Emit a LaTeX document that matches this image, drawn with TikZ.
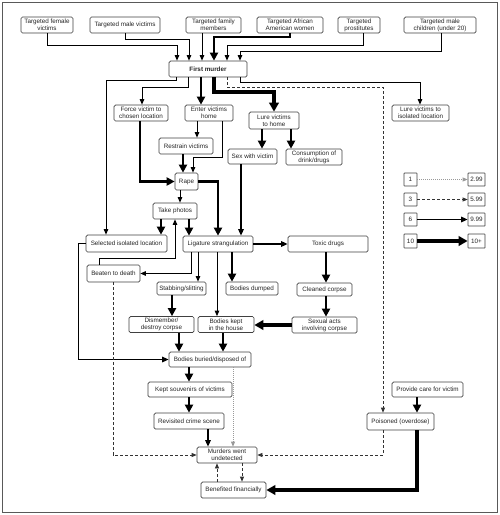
\documentclass[tikz,border=0pt]{standalone}
\usepackage{fontspec}
\setmainfont{Liberation Sans}
\usetikzlibrary{arrows.meta}
\begin{document}
\begin{tikzpicture}[x=1pt,y=-1pt,
 box/.style={draw=black!75, line width=0.7pt, rounded corners=1.5pt, fill=white, inner sep=0pt, align=center, font=\fontsize{6.3}{7}\selectfont, text=black!85},
 lg/.style={box, rounded corners=0.5pt},
 ar/.style={line width=0.9pt, -{Triangle[length=5.5pt,width=4.5pt]}},
 arM/.style={line width=1.4pt, -{Triangle[length=6.5pt,width=5.5pt]}},
 arT/.style={line width=2.5pt, -{Triangle[length=8pt,width=8pt]}},
 arTT/.style={line width=3.3pt, -{Triangle[length=9pt,width=9.5pt]}},
 ardash/.style={line width=0.7pt, black!80, dash pattern=on 3pt off 2pt, -{Triangle[length=5pt,width=4pt]}},
 ardot/.style={line width=0.7pt, black!40, dash pattern=on 1pt off 1pt, -{Triangle[length=5pt,width=4pt]}}
]
\useasboundingbox (0,0) rectangle (500,515);
\draw[black!65, line width=1pt] (2,2) rectangle (497,512);

% nodes
\node[box, minimum width=52pt, minimum height=16pt] (tfem) at (47,25) {Targeted female\\victims};
\node[box, minimum width=70pt, minimum height=16pt] (tmale) at (125,25) {Targeted male victims};
\node[box, minimum width=55pt, minimum height=16pt] (tfam) at (213.5,25) {Targeted family\\members};
\node[box, minimum width=66pt, minimum height=16pt] (tafa) at (290,25) {Targeted African\\American women};
\node[box, minimum width=42pt, minimum height=16pt] (tpro) at (359,25) {Targeted\\prostitutes};
\node[box, minimum width=72pt, minimum height=16pt] (tchild) at (440,25) {Targeted male\\children (under 20)};
\node[box, minimum width=78pt, minimum height=16pt, font=\fontsize{6.3}{7}\selectfont\bfseries] (first) at (208,69) {First murder};
\node[box, minimum width=54pt, minimum height=16pt] (force) at (141,113) {Force victim to\\chosen location};
\node[box, minimum width=48pt, minimum height=16pt] (enter) at (209,113) {Enter victims\\home};
\node[box, minimum width=50pt, minimum height=17pt] (lurehome) at (274,120.5) {Lure victims\\to home};
\node[box, minimum width=57pt, minimum height=16pt] (lureiso) at (420.5,113) {Lure victims to\\isolated location};
\node[box, minimum width=54pt, minimum height=16pt] (restrain) at (186,146) {Restrain victims};
\node[box, minimum width=49pt, minimum height=15pt] (sex) at (252.5,156.5) {Sex with victim};
\node[box, minimum width=56pt, minimum height=16pt] (consume) at (314,157) {Consumption of\\drink/drugs};
\node[box, minimum width=23pt, minimum height=17pt] (rape) at (186.5,181.5) {Rape};
\node[box, minimum width=44pt, minimum height=16pt] (photos) at (175,211) {Take photos};
\node[box, minimum width=81pt, minimum height=17pt] (seliso) at (126.5,243.5) {Selected isolated location};
\node[box, minimum width=70pt, minimum height=16pt] (lig) at (218,244) {Ligature strangulation};
\node[box, minimum width=80pt, minimum height=16pt] (toxic) at (328,244) {Toxic drugs};
\node[box, minimum width=53pt, minimum height=17pt] (beaten) at (113.5,273.5) {Beaten to death};
\node[box, minimum width=49pt, minimum height=13pt] (stab) at (181.5,288.5) {Stabbing/slitting};
\node[box, minimum width=52pt, minimum height=13pt] (dumped) at (252,288.5) {Bodies dumped};
\node[box, minimum width=55pt, minimum height=13pt] (cleaned) at (324.5,289.5) {Cleaned corpse};
\node[box, minimum width=65pt, minimum height=16pt] (dismember) at (161.5,324.5) {Dismember/\\destroy corpse};
\node[box, minimum width=56pt, minimum height=16pt] (kept) at (226,324.5) {Bodies kept\\in the house};
\node[box, minimum width=65pt, minimum height=16pt] (sexacts) at (324.5,325) {Sexual acts\\involving corpse};
\node[box, minimum width=82pt, minimum height=15pt] (buried) at (210,359.5) {Bodies buried/disposed of};
\node[box, minimum width=84pt, minimum height=15pt] (souv) at (190,389.5) {Kept souvenirs of victims};
\node[box, minimum width=70pt, minimum height=16pt] (revis) at (189,421) {Revisited crime scene};
\node[box, minimum width=60pt, minimum height=16pt] (murders) at (227,455) {Murders went\\undetected};
\node[box, minimum width=65pt, minimum height=16pt] (benef) at (233.5,490) {Benefited financially};
\node[box, minimum width=71pt, minimum height=15pt] (care) at (427.5,389.5) {Provide care for victim};
\node[box, minimum width=67pt, minimum height=17pt] (poison) at (400.5,421.5) {Poisoned (overdose)};

% legend
\node[lg, minimum width=13pt, minimum height=13pt] (l1) at (410.5,179.5) {1};
\node[lg, minimum width=17pt, minimum height=13pt] (r1) at (476.5,179.5) {2.99};
\node[lg, minimum width=13pt, minimum height=13pt] (l2) at (410.5,199.5) {3};
\node[lg, minimum width=17pt, minimum height=13pt] (r2) at (476.5,199.5) {5.99};
\node[lg, minimum width=13pt, minimum height=13pt] (l3) at (410.5,219.5) {6};
\node[lg, minimum width=17pt, minimum height=13pt] (r3) at (476.5,219.5) {9.99};
\node[lg, minimum width=13pt, minimum height=14pt] (l4) at (410.5,241) {10};
\node[lg, minimum width=17pt, minimum height=14pt] (r4) at (476.5,241) {10+};
\draw[ardot] (l1) -- (r1);
\draw[ardash] (l2) -- (r2);
\draw[arM] (l3) -- (r3);
\draw[arTT] (l4) -- (r4);

% into first murder
\draw[ar] (tfem.south) |- (177,45) -- (177,0 |- first.north);
\draw[ar] (tmale.south) |- (189,39) -- (189,0 |- first.north);
\draw[ar] (202,0 |- tfam.south) -- (202,0 |- first.north);
\draw[arT] (tafa.south) |- (214,37) -- (214,0 |- first.north);
\draw[ar] (363,0 |- tpro.south) |- (227,45) -- (227,0 |- first.north);
\draw[ar] (441,0 |- tchild.south) |- (240,51) -- (240,0 |- first.north);

% out of first murder
\draw[ar] (176,0 |- first.south) |- (106,80) -- (106,0 |- seliso.north);
\draw[ar] (188,0 |- first.south) |- (142,87) -- (142,0 |- force.north);
\draw[arT] (201,0 |- first.south) -- (201,0 |- enter.north);
\draw[arTT] (214,0 |- first.south) |- (274,92) -- (lurehome.north);
\draw[ar] (240,0 |- first.south) |- (420,82) -- (420,0 |- lureiso.north);
\draw[ardash] (227,0 |- first.south) |- (383,87) -- (383,0 |- poison.north);

% middle
\draw[arT] (140,0 |- force.south) |- (rape.west);
\draw[ar] (197,0 |- enter.south) -- (197,0 |- restrain.north);
\draw[ar] (222,0 |- enter.south) |- (193,157) -- (193,0 |- rape.north);
\draw[arT] (183,0 |- restrain.south) -- (183,0 |- rape.north);
\draw[arT] (rape.east) -| (lig.north);
\draw[ar] (180,0 |- rape.south) -- (180,0 |- photos.north);
\draw[arT] (161,0 |- photos.south) -- (161,0 |- seliso.north);
\draw[arT] (189,0 |- photos.south) -- (189,0 |- lig.north);
\draw[ar] (99,0 |- beaten.north) |- (175,258) -- (175,0 |- photos.south);
\draw[arT] (262,0 |- lurehome.south) -- (262,0 |- sex.north);
\draw[arT] (291,0 |- lurehome.south) -- (291,0 |- consume.north);
\draw[arM] (241,0 |- sex.south) -- (241,0 |- lig.north);
\draw[arM] (lig.east) -- (toxic.west);
\draw[arM] (seliso.west) -- ++(-7,0) |- (buried.west);
\draw[ar] (191,0 |- lig.south) |- (beaten.east);
\draw[ar] (198,0 |- lig.south) -- (198,0 |- stab.north);
\draw[ar] (217,0 |- lig.south) -- (217,0 |- kept.north);
\draw[arT] (232,0 |- lig.south) -- (232,0 |- dumped.north);
\draw[arT] (172,0 |- stab.south) -- (172,0 |- dismember.north);
\draw[arT] (179,0 |- dismember.south) -- (179,0 |- buried.north);
\draw[arT] (223,0 |- kept.south) -- (223,0 |- buried.north);
\draw[arTT] (sexacts.west) -- (sexacts.west -| kept.east);
\draw[arT] (326,0 |- toxic.south) -- (326,0 |- cleaned.north);
\draw[arT] (326,0 |- cleaned.south) -- (326,0 |- sexacts.north);

% bottom
\draw[ardash] (113,0 |- beaten.south) |- (murders.west);
\draw[arT] (189,0 |- buried.south) -- (189,0 |- souv.north);
\draw[arT] (189,0 |- souv.south) -- (189,0 |- revis.north);
\draw[arM] (208,0 |- revis.south) -- (208,0 |- murders.north);
\draw[ardot] (233,0 |- buried.south) -- (233,0 |- murders.north);
\draw[ardash] (217,0 |- benef.north) -- (217,0 |- murders.south);
\draw[ardash] (242,0 |- murders.south) -- (242,0 |- benef.north);
\draw[arTT] (417,0 |- poison.south) |- (benef.east);
\draw[arT] (417,0 |- care.south) -- (417,0 |- poison.north);
\draw[ardash] (383,0 |- poison.south) |- (murders.east);
\end{tikzpicture}
\end{document}
